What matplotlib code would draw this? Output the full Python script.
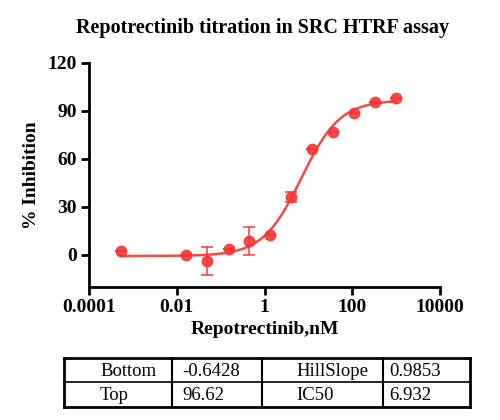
import numpy as np
import matplotlib
matplotlib.use("Agg")
import matplotlib.pyplot as plt

plt.rcParams['font.family'] = ['Liberation Serif', 'DejaVu Serif']

# measured points (concentration in nM, mean % inhibition, SD)
conc = [0.00055, 0.0163, 0.049, 0.152, 0.44, 1.34, 4.03, 12.0, 36.6, 110, 328, 1000]
inhib = [2.5, 0.0, -3.7, 3.5, 8.7, 12.4, 36.0, 66.1, 77.0, 88.8, 95.7, 97.8]
sd = [0, 0, 8.6, 0, 8.7, 0, 3.0, 0, 0, 0, 0, 0]

# fitted 4PL parameters
bottom = -0.6428
top = 96.62
hillslope = 0.9853
ic50 = 6.932

table_rows = [["Bottom", "-0.6428", "HillSlope", "0.9853"],
              ["Top", "96.62", "IC50", "6.932"]]

red = '#f83535'

fig = plt.figure(figsize=(5, 4.2), dpi=100)
W, H = 500, 420
ax = fig.add_axes([89/W, 1-287/H, (440-89)/W, (287-62.7)/H])

xs = np.logspace(np.log10(conc[0]), np.log10(conc[-1]), 300)
ys = bottom + (top - bottom) / (1 + (ic50 / xs) ** hillslope)
ax.plot(xs, ys, color=red, lw=1.8, alpha=0.9)
ax.errorbar(conc, inhib, yerr=sd, fmt='o', color=red, ms=7.5, alpha=0.9,
            elinewidth=1.2, capsize=4, capthick=1.2)

ax.set_xscale('log')
ax.set_xlim(1e-4, 1e4)
ax.set_ylim(-20, 120)
ax.set_xticks([1e-4, 1e-2, 1, 1e2, 1e4])
ax.set_xticklabels(['0.0001', '0.01', '1', '100', '10000'])
ax.xaxis.set_minor_locator(matplotlib.ticker.NullLocator())
ax.set_yticks([0, 30, 60, 90, 120])

for s in ['top', 'right']:
    ax.spines[s].set_visible(False)
for s in ['left', 'bottom']:
    ax.spines[s].set_linewidth(2)
ax.tick_params(width=2, length=6, labelsize=14, pad=3)
for lab in ax.get_xticklabels() + ax.get_yticklabels():
    lab.set_fontweight('bold')

ax.set_xlabel('Repotrectinib,nM', fontsize=14, fontweight='bold', labelpad=3)
ax.set_ylabel('% Inhibition', fontsize=14, fontweight='bold', labelpad=5)
fig.text(263/W, 1-28/H, 'Repotrectinib titration in SRC HTRF assay',
         ha='center', va='center', fontsize=14.5, fontweight='bold')

# parameter table
tax = fig.add_axes([0, 0, 1, 1])
tax.set_xlim(0, W)
tax.set_ylim(H, 0)
tax.axis('off')
cols = [64, 172, 262, 383, 470]
rows = [358, 382, 407]
for x in cols:
    lw = 2 if x in (cols[0], cols[-1]) else 1.5
    tax.plot([x, x], [rows[0], rows[-1]], color='black', lw=lw)
for y in rows:
    lw = 2 if y in (rows[0], rows[-1]) else 1.2
    tax.plot([cols[0], cols[-1]], [y, y], color='black', lw=lw)
offsets = [36, 10, 34, 6]
for r, row in enumerate(table_rows):
    yc = (rows[r] + rows[r+1]) / 2
    for c, txt in enumerate(row):
        tax.text(cols[c] + offsets[c], yc + 1, txt, ha='left', va='center',
                 fontsize=13.5)

fig.savefig('out.png', dpi=100)
